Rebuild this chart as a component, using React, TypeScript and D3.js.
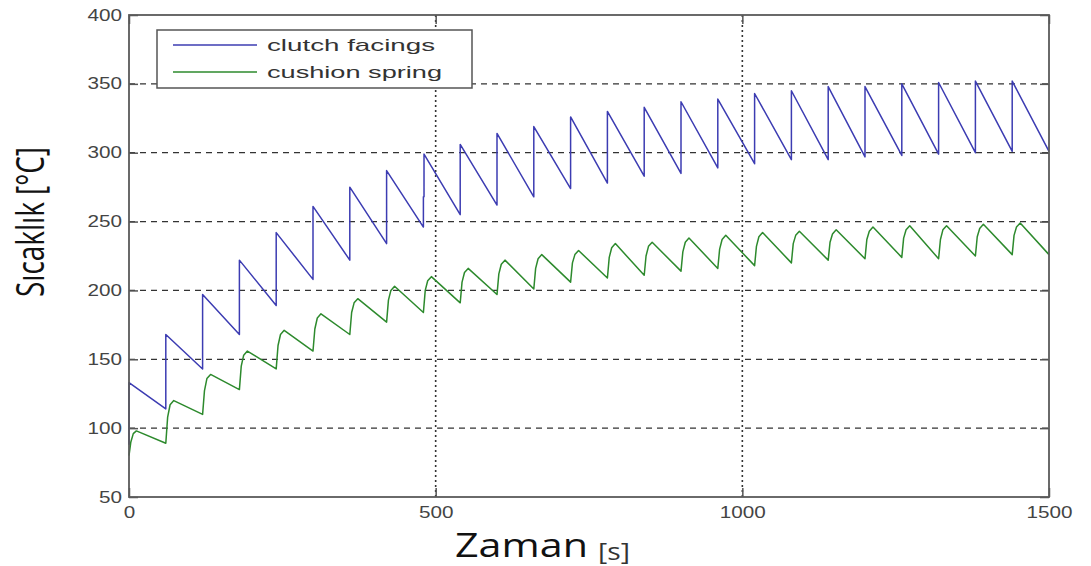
import React, { useEffect, useRef } from "react";
import * as d3 from "d3";

// [time s, temperature °C] — heat pulse every 60 s
const clutchFacings: [number, number][] = [
  [0, 88], [0, 133], [60, 114], [60, 168], [120, 143], [120, 197],
  [180, 168], [180, 222], [240, 189], [240, 242], [300, 208], [300, 261],
  [360, 222], [360, 275], [420, 234], [420, 287], [480, 246], [480, 268], [481, 268], [481, 299],
  [540, 255], [540, 306], [600, 262], [600, 314], [660, 268], [660, 319],
  [720, 274], [720, 326], [780, 278], [780, 330], [840, 283], [840, 333],
  [900, 285], [900, 337], [960, 289], [960, 339], [1020, 292], [1020, 343],
  [1080, 295], [1080, 345], [1140, 295], [1140, 348], [1200, 297], [1200, 348],
  [1260, 298], [1260, 350], [1320, 299], [1320, 351], [1380, 300], [1380, 352],
  [1440, 301], [1440, 352], [1500, 301],
];

const cushionSpring: [number, number][] = [
  [0, 80], [3, 90], [7, 96], [12, 98],
  [60, 89], [63, 108], [67, 117], [73, 120],
  [120, 110], [123, 127], [127, 136], [133, 139],
  [180, 128], [183, 145], [187, 153], [193, 156],
  [240, 143], [243, 160], [247, 168], [253, 171],
  [300, 156], [303, 172], [307, 180], [313, 183],
  [360, 168], [363, 184], [367, 191], [373, 194],
  [420, 177], [423, 193], [427, 200], [433, 203],
  [480, 184], [483, 200], [487, 207], [493, 210],
  [540, 191], [543, 206], [547, 213], [553, 216],
  [600, 197], [603, 212], [607, 219], [613, 222],
  [660, 201], [663, 216], [667, 223], [673, 226],
  [720, 206], [723, 220], [727, 226], [733, 229],
  [780, 209], [783, 224], [787, 231], [793, 234],
  [840, 211], [843, 225], [847, 232], [853, 235],
  [900, 214], [903, 228], [907, 235], [913, 238],
  [960, 216], [963, 230], [967, 237], [973, 240],
  [1020, 218], [1023, 232], [1027, 239], [1033, 242],
  [1080, 220], [1083, 234], [1087, 240], [1093, 243],
  [1140, 222], [1143, 235], [1147, 241], [1153, 244],
  [1200, 223], [1203, 237], [1207, 243], [1213, 246],
  [1260, 224], [1263, 238], [1267, 244], [1273, 247],
  [1320, 223], [1323, 237], [1327, 244], [1333, 247],
  [1380, 225], [1383, 239], [1387, 245], [1393, 248],
  [1440, 226], [1443, 240], [1447, 246], [1453, 249],
  [1500, 226],
];

const xTicks = [0, 500, 1000, 1500];
const yTicks = [50, 100, 150, 200, 250, 300, 350, 400];
const seriesNames = ["clutch facings", "cushion spring"];
const seriesColors = ["#3c3cb2", "#2d8a2d"];

const App = () => {
  const svgRef = useRef<SVGSVGElement>(null);

  useEffect(() => {
    const svg = d3.select(svgRef.current);
    svg.selectAll("*").remove();

    const left = 129, right = 1049, top = 15, bottom = 497;
    const x = d3.scaleLinear().domain([0, 1500]).range([left, right]);
    const y = d3.scaleLinear().domain([50, 400]).range([bottom, top]);
    const tickFont = "'Liberation Sans', Arial, sans-serif";
    const fmt = d3.format("d");

    // grid: dashed horizontal, dotted vertical
    svg.append("g")
      .selectAll("line")
      .data(yTicks.filter((v) => v > 50 && v < 400))
      .join("line")
      .attr("x1", left).attr("x2", right)
      .attr("y1", (d) => y(d)).attr("y2", (d) => y(d))
      .attr("stroke", "#333").attr("stroke-width", 1.3)
      .attr("stroke-dasharray", "6,5");
    svg.append("g")
      .selectAll("line")
      .data(xTicks.filter((v) => v > 0 && v < 1500))
      .join("line")
      .attr("x1", (d) => x(d)).attr("x2", (d) => x(d))
      .attr("y1", top).attr("y2", bottom)
      .attr("stroke", "#333").attr("stroke-width", 1.6)
      .attr("stroke-dasharray", "2,3");

    // axes with inward ticks
    const gx = svg.append("g").attr("transform", `translate(0,${bottom})`)
      .call(d3.axisBottom(x).tickValues(xTicks).tickFormat(fmt).tickSizeInner(-9).tickSizeOuter(0).tickPadding(10));
    const gy = svg.append("g").attr("transform", `translate(${left},0)`)
      .call(d3.axisLeft(y).tickValues(yTicks).tickFormat(fmt).tickSizeInner(-9).tickSizeOuter(0).tickPadding(7));
    svg.append("g").attr("transform", `translate(0,${top})`)
      .call(d3.axisTop(x).tickValues(xTicks).tickSizeInner(-9).tickSizeOuter(0).tickFormat(() => ""));
    svg.append("g").attr("transform", `translate(${right},0)`)
      .call(d3.axisRight(y).tickValues(yTicks).tickSizeInner(-9).tickSizeOuter(0).tickFormat(() => ""));

    svg.selectAll(".domain").remove();
    svg.selectAll(".tick line").attr("stroke", "#555").attr("stroke-width", 1.5);
    [gx, gy].forEach((g) =>
      g.selectAll("text")
        .attr("font-family", tickFont)
        .attr("font-size", 16)
        .attr("fill", "#444")
        .attr("textLength", function () {
          return (this as SVGTextElement).textContent!.length * 11.5;
        })
        .attr("lengthAdjust", "spacingAndGlyphs")
    );

    // data lines
    const line = d3.line<[number, number]>()
      .x((d) => x(d[0]))
      .y((d) => y(d[1]));
    [clutchFacings, cushionSpring].forEach((data, i) => {
      svg.append("path")
        .datum(data)
        .attr("d", line)
        .attr("fill", "none")
        .attr("stroke", seriesColors[i])
        .attr("stroke-width", 1.5)
        .attr("stroke-linejoin", "round");
    });

    // frame
    svg.append("rect")
      .attr("x", left).attr("y", top)
      .attr("width", right - left).attr("height", bottom - top)
      .attr("fill", "none").attr("stroke", "#5a5a5a").attr("stroke-width", 1.8);

    // legend
    const lg = svg.append("g");
    lg.append("rect")
      .attr("x", 157).attr("y", 30).attr("width", 315).attr("height", 58)
      .attr("fill", "white").attr("stroke", "#555").attr("stroke-width", 1.5);
    seriesNames.forEach((name, i) => {
      const ly = 45 + i * 27;
      lg.append("line")
        .attr("x1", 173).attr("x2", 257).attr("y1", ly).attr("y2", ly)
        .attr("stroke", seriesColors[i]).attr("stroke-width", 1.5);
      lg.append("text")
        .attr("x", 267).attr("y", ly + 6)
        .attr("font-family", tickFont).attr("font-size", 17).attr("fill", "#333")
        .attr("textLength", i === 0 ? 168 : 175)
        .attr("lengthAdjust", "spacingAndGlyphs")
        .text(name);
    });

    // axis titles
    svg.append("text")
      .attr("x", 455).attr("y", 557)
      .attr("font-family", "'Open Sans', sans-serif").attr("font-size", 33).attr("fill", "#111")
      .attr("textLength", 133).attr("lengthAdjust", "spacingAndGlyphs")
      .text("Zaman");
    svg.append("text")
      .attr("x", 598).attr("y", 560)
      .attr("font-family", "'Open Sans', sans-serif").attr("font-size", 24).attr("fill", "#333")
      .attr("textLength", 32).attr("lengthAdjust", "spacingAndGlyphs")
      .text("[s]");
    svg.append("text")
      .attr("transform", "translate(44,222) scale(1.25,1) rotate(-90)")
      .attr("text-anchor", "middle")
      .attr("font-family", "'Open Sans', sans-serif").attr("font-size", 30).attr("fill", "#111")
      .attr("textLength", 150).attr("lengthAdjust", "spacingAndGlyphs")
      .text("Sıcaklık [°C]");
  }, []);

  return (
    <div style={{ position: "absolute", left: 0, top: 0 }}>
      <svg ref={svgRef} width={1091} height={566} style={{ display: "block", background: "white" }} />
    </div>
  );
};

export default App;
